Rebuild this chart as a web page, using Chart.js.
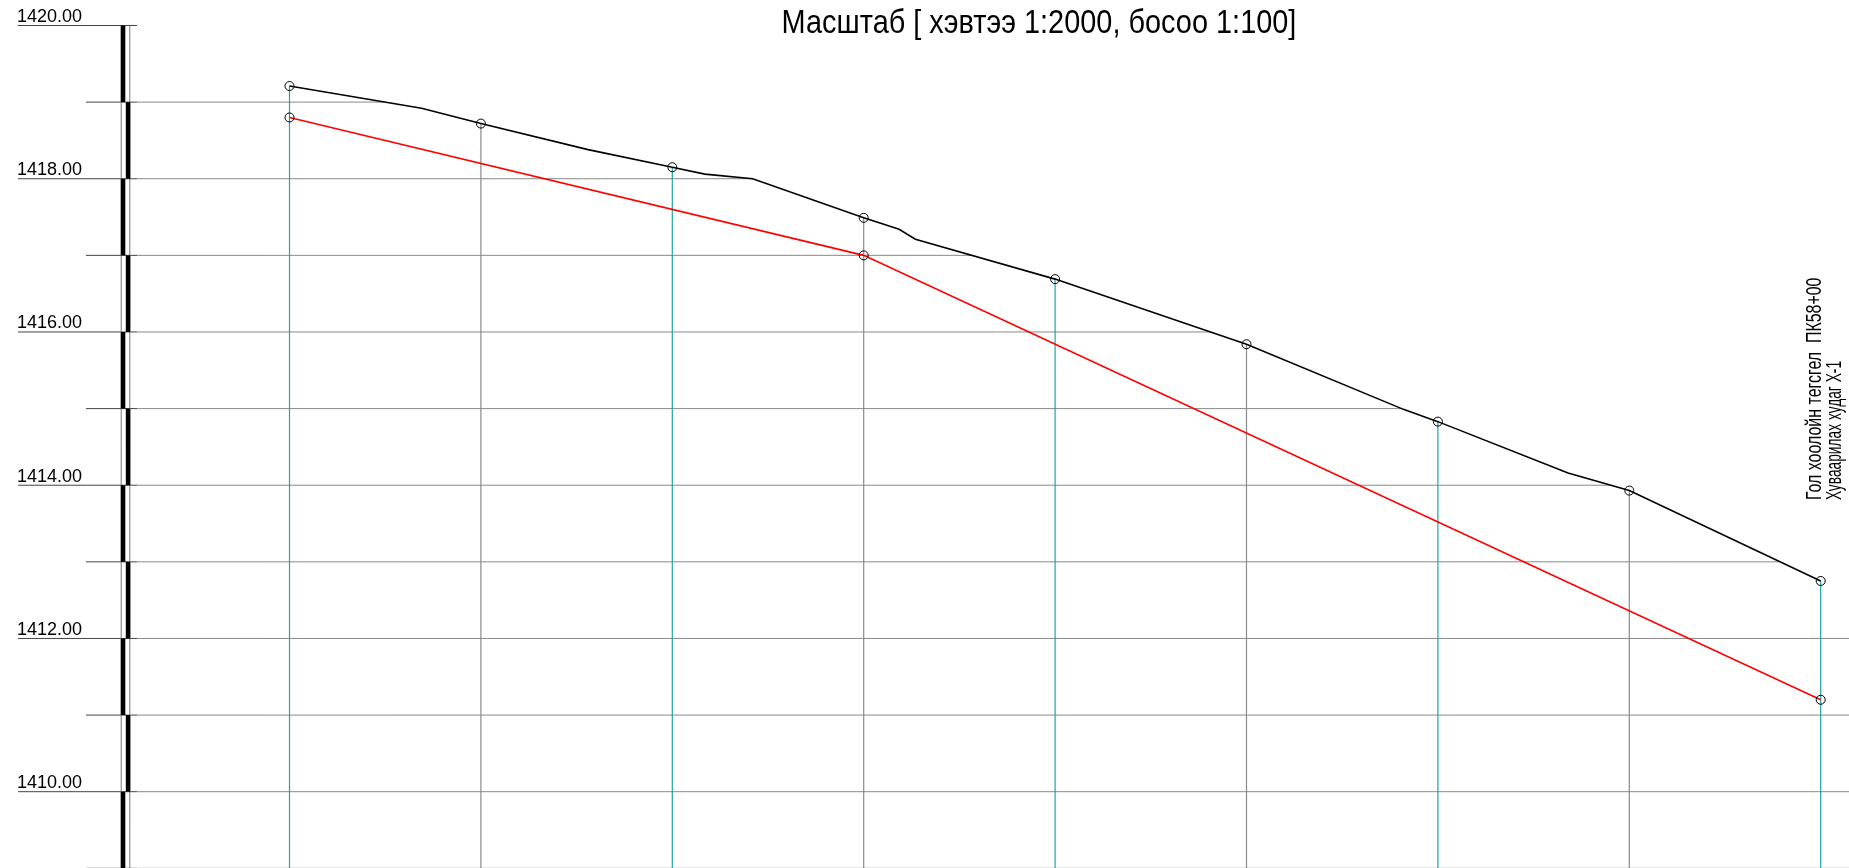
<!DOCTYPE html>
<html>
<head>
<meta charset="utf-8">
<title>Профиль</title>
<script src="https://cdn.jsdelivr.net/npm/chart.js@4/dist/chart.umd.min.js"></script>
<style>
  html, body { margin: 0; padding: 0; background: #fff; }
  #wrap { width: 1849px; height: 868px; position: relative; }
</style>
</head>
<body>
<div id="wrap"><canvas id="profileChart"></canvas></div>
<script>
// Stations (chainage, m) - circles sit on these
const stations = [0, 20, 40, 60, 80, 100, 120, 140, 160];
const groundAtStations = [1419.21, 1418.72, 1418.15, 1417.49, 1416.69, 1415.84, 1414.83, 1413.93, 1412.75];

// Ground surface with the break points between stations
const groundDist = [0, 13.8, 20, 31.2, 40, 43.4, 48.4, 60, 63.7, 65.4, 80, 82.6, 100, 116.4, 120, 133.6, 140, 160];
const groundElev = [1419.21, 1418.92, 1418.72, 1418.38, 1418.15, 1418.06, 1418.00, 1417.49, 1417.34, 1417.21,
                    1416.69, 1416.58, 1415.84, 1414.99, 1414.83, 1414.16, 1413.93, 1412.75];

// Pipe (design) line
const designDist = [0, 60, 160];
const designElev = [1418.80, 1417.00, 1411.20];

// Level grid and labels
const gridLevels = [1420, 1419, 1418, 1417, 1416, 1415, 1414, 1413, 1412, 1411, 1410, 1409];
const tickLevels = [1420, 1418, 1416, 1414, 1412, 1410];
const tickLabels = ['1420.00', '1418.00', '1416.00', '1414.00', '1412.00', '1410.00'];

const titleText = 'Масштаб [ хэвтээ 1:2000, босоо 1:100]';
const endNote = ['Гол хоолойн тегсгел  ПК58+00', 'Хуваарилах худаг Х-1'];

const TEAL = '#22a4a4';
const GRID = '#8a8a8a';

// Grid clipped under the ground, level bar, station verticals
const profileGrid = {
    id: 'profileGrid',
    beforeDatasetsDraw(chart) {
        const { ctx, chartArea } = chart;
        const x = chart.scales.x, y = chart.scales.y;
        const axisEnd = 137;
        const bottom = chartArea.bottom, right = chartArea.right;

        ctx.save();
        ctx.beginPath();
        ctx.moveTo(axisEnd, bottom);
        ctx.lineTo(axisEnd, y.getPixelForValue(groundElev[0]));
        groundDist.forEach((d, i) => ctx.lineTo(x.getPixelForValue(d), y.getPixelForValue(groundElev[i])));
        ctx.lineTo(right, y.getPixelForValue(groundElev[groundElev.length - 1]));
        ctx.lineTo(right, bottom);
        ctx.closePath();
        ctx.clip();
        ctx.strokeStyle = GRID;
        ctx.lineWidth = 1;
        gridLevels.forEach((v) => {
            const py = y.getPixelForValue(v);
            ctx.beginPath();
            ctx.moveTo(axisEnd, py);
            ctx.lineTo(right, py);
            ctx.stroke();
        });
        ctx.restore();

        // ticks left of the bar
        ctx.save();
        ctx.strokeStyle = '#444';
        ctx.lineWidth = 1;
        gridLevels.forEach((v) => {
            const py = y.getPixelForValue(v);
            ctx.beginPath();
            ctx.moveTo(tickLevels.includes(v) ? 18 : 86, py);
            ctx.lineTo(axisEnd, py);
            ctx.stroke();
        });

        // level bar: two thin rails + alternating black blocks
        const top = y.getPixelForValue(gridLevels[0]);
        ctx.strokeStyle = '#777';
        [121.2, 129.8].forEach((px) => {
            ctx.beginPath();
            ctx.moveTo(px, top);
            ctx.lineTo(px, bottom);
            ctx.stroke();
        });
        ctx.fillStyle = '#000';
        for (let i = 0; i < gridLevels.length - 1; i++) {
            const y1 = y.getPixelForValue(gridLevels[i]);
            const y2 = y.getPixelForValue(gridLevels[i + 1]);
            const left = i % 2 === 0 ? 120.8 : 125.8;
            ctx.fillRect(left, y1, 4.5, y2 - y1);
        }

        // station verticals
        ctx.lineWidth = 1.2;
        stations.forEach((d, i) => {
            const px = x.getPixelForValue(d);
            ctx.strokeStyle = i % 2 === 0 ? TEAL : GRID;
            ctx.beginPath();
            ctx.moveTo(px, bottom);
            ctx.lineTo(px, y.getPixelForValue(groundAtStations[i]));
            ctx.stroke();
        });
        ctx.restore();
    },
    afterDraw(chart) {
        const { ctx } = chart;
        const y = chart.scales.y, x = chart.scales.x;
        ctx.save();
        ctx.fillStyle = '#000';

        // level labels
        ctx.font = '18px "Liberation Sans", Arial, sans-serif';
        ctx.textAlign = 'left';
        ctx.textBaseline = 'alphabetic';
        tickLevels.forEach((v, i) => {
            ctx.fillText(tickLabels[i], 17, y.getPixelForValue(v) - 3.5);
        });

        // title (narrow face)
        ctx.save();
        ctx.translate(1039, 33);
        ctx.scale(0.85, 1);
        ctx.font = '34px "Liberation Sans", Arial, sans-serif';
        ctx.textAlign = 'center';
        ctx.fillText(titleText, 0, 0);
        ctx.restore();

        // note at the last station
        const lastX = x.getPixelForValue(stations[stations.length - 1]);
        ctx.font = '22px "Liberation Sans", Arial, sans-serif';
        ctx.textAlign = 'left';
        ctx.save();
        ctx.translate(lastX, 500);
        ctx.rotate(-Math.PI / 2);
        ctx.save();
        ctx.scale(0.725, 1);
        ctx.fillText(endNote[0], 0, 0);
        ctx.restore();
        ctx.scale(0.625, 1);
        ctx.fillText(endNote[1], 0, 20);
        ctx.restore();

        ctx.restore();
    }
};

const xPerPx = 1 / 9.57;
const ctxEl = document.getElementById('profileChart').getContext('2d');
new Chart(ctxEl, {
    type: 'line',
    data: {
        datasets: [
            {
                label: 'Станц',
                data: stations.map((d, i) => ({ x: d, y: groundAtStations[i] }))
                    .concat(designDist.map((d, i) => ({ x: d, y: designElev[i] }))),
                showLine: false,
                pointRadius: 4.5,
                pointHoverRadius: 4.5,
                pointBorderColor: '#000',
                pointBorderWidth: 1,
                pointBackgroundColor: 'rgba(0,0,0,0)',
            },
            {
                label: 'Газрын гадаргуу',
                data: groundDist.map((d, i) => ({ x: d, y: groundElev[i] })),
                borderColor: '#000',
                borderWidth: 1.6,
                pointRadius: 0,
                tension: 0,
                fill: false,
            },
            {
                label: 'Хоолой',
                data: designDist.map((d, i) => ({ x: d, y: designElev[i] })),
                borderColor: '#ff0000',
                borderWidth: 1.6,
                pointRadius: 0,
                tension: 0,
                fill: false,
            },
        ],
    },
    options: {
        responsive: true,
        maintainAspectRatio: false,
        animation: false,
        layout: { padding: 0, autoPadding: false },
        plugins: {
            legend: { display: false },
            tooltip: { enabled: false },
            title: { display: false },
        },
        scales: {
            x: { type: 'linear', display: false, bounds: 'data', min: -289.5 * xPerPx, max: (1849 - 289.5) * xPerPx },
            y: { type: 'linear', display: false, bounds: 'data', min: 1420 - (868 - 25.5) / 76.62, max: 1420 + 25.5 / 76.62 },
        },
    },
    plugins: [profileGrid],
});
</script>
</body>
</html>
